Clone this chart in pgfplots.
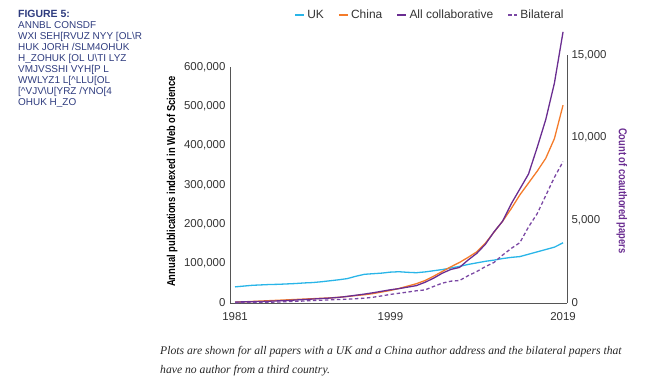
\documentclass[border=0pt]{standalone}
\usepackage{fontspec}
\setmainfont{Liberation Sans}
\newfontfamily\capfont{Liberation Serif}
\usepackage{pgfplots}
\usepackage{pgfplotstable}
\pgfplotsset{compat=1.18}
\definecolor{ukc}{HTML}{29B5E8}
\definecolor{cnc}{HTML}{F47B2A}
\definecolor{allc}{HTML}{6A2D91}
\definecolor{bic}{HTML}{7A47A3}
\definecolor{navy}{HTML}{2E3B7E}
\definecolor{axc}{HTML}{555555}
\definecolor{tkc}{HTML}{333333}

\pgfplotstableread{
year uk china
1981 41 2
1982 43 3
1983 45 4
1984 46 5
1985 47 6
1986 47.5 7
1987 48.5 8
1988 49.5 9
1989 51 10
1990 52 11
1991 54 12
1992 56.5 13
1993 59 14.5
1994 62 16.5
1995 68 19
1996 73 21
1997 74.5 24
1998 76 28
1999 78.5 32
2000 79.5 37
2001 78 43
2002 77 49
2003 79 57
2004 82 68
2005 85 80
2006 89 92
2007 93 103
2008 98 116
2009 102 130
2010 106 152
2011 109 180
2012 113 208
2013 116 240
2014 118 275
2015 124 305
2016 130 335
2017 136 368
2018 142 418
2019 153 503
}\pubtable

\pgfplotstableread{
year all bil
1981 60 20
1982 70 25
1983 80 30
1984 90 40
1985 110 50
1986 130 60
1987 150 80
1988 180 100
1989 210 120
1990 240 150
1991 270 170
1992 300 190
1993 340 210
1994 400 230
1995 470 260
1996 540 290
1997 620 350
1998 710 430
1999 800 520
2000 870 590
2001 960 660
2002 1050 740
2003 1250 790
2004 1500 1000
2005 1800 1200
2006 2030 1320
2007 2150 1360
2008 2600 1650
2009 3000 1900
2010 3550 2200
2011 4300 2450
2012 4950 2900
2013 6000 3300
2014 6900 3650
2015 7800 4600
2016 9400 5400
2017 11100 6500
2018 13300 7600
2019 16400 8550
}\coltable

\begin{document}
\begin{tikzpicture}[x=1bp,y=1bp]
\path[use as bounding box] (0,0) rectangle (654,390);

% left text block
\node[anchor=north west, align=left, inner sep=0pt, text=navy, font=\fontsize{10}{11}\selectfont] at (18,380) {%
{\bfseries\fontsize{10.5}{11}\selectfont FIGURE 5:}\\
ANNBL CONSDF\\
WXI SEH{[}RVUZ NYY {[}OL\textbackslash R\\
HUK JORH /SLM4OHUK\\
H\_ZOHUK {[}OL U\textbackslash TI LYZ\\
VMJVSSHI VYH{[}P L\\
WWLYZ1 L{[}\textasciicircum LLU{[}OL\\
{[}\textasciicircum VJV\textbackslash U{[}YRZ /YNO{[}4\\
OHUK H\_ZO};

% caption
\node[anchor=north west, align=left, inner sep=0pt, font=\capfont\itshape\fontsize{11.7}{19.5}\selectfont, text=black!85] at (160,44) {Plots are shown for all papers with a UK and a China author address and the bilateral papers that\\have no author from a third country.};

\begin{axis}[
  at={(230bp,87bp)}, anchor=south west,
  scale only axis, width=337bp, height=236bp,
  xmin=1980.42, xmax=2019.46, ymin=0, ymax=600000,
  axis x line*=bottom, axis y line*=left,
  axis line style={draw=axc, line width=0.8bp, -},
  major tick length=0pt,
  scaled y ticks=false, scaled x ticks=false,
  xtick={1981,1999,2019},
  xticklabels={1981,1999,2019},
  ytick={0,100000,200000,300000,400000,500000,600000},
  yticklabels={0,{100,000},{200,000},{300,000},{400,000},{500,000},{600,000}},
  tick label style={font=\fontsize{11.5}{12}\selectfont, text=tkc},
  xticklabel style={yshift=-6bp},
  yticklabel style={xshift=-1bp},
  ylabel={\scalebox{0.82}[1]{\bfseries\fontsize{11.5}{12}\selectfont Annual publications indexed in Web of Science}},
  ylabel style={at={(axis description cs:-0.172,0.515)}, anchor=center, text=black},
  clip=false,
]
\addplot[ukc, line width=1.3bp] table[x=year, y expr=\thisrow{uk}*1000] {\pubtable};
\addplot[cnc, line width=1.3bp] table[x=year, y expr=\thisrow{china}*1000] {\pubtable};
\end{axis}

\begin{axis}[
  at={(230bp,87bp)}, anchor=south west,
  scale only axis, width=337bp, height=248bp,
  xmin=1980.42, xmax=2019.46, ymin=0, ymax=15000,
  axis x line=none, axis y line*=right,
  axis line style={draw=axc, line width=0.8bp, -},
  major tick length=0pt,
  scaled y ticks=false, scaled x ticks=false,
  ytick={0,5000,10000,15000},
  yticklabels={0,{5,000},{10,000},{15,000}},
  tick label style={font=\fontsize{11.5}{12}\selectfont, text=tkc},
  yticklabel style={xshift=1bp},
  clip=false,
  legend columns=4,
  legend style={draw=none, fill=none, at={(rel axis cs:0.593,1.161)}, anchor=center,
    font=\fontsize{12}{12}\selectfont, text=tkc,
    /tikz/every even column/.append style={column sep=12bp}},
  legend cell align=left,
  legend image code/.code={\draw[#1, line width=2.2bp] (0,0) -- (9bp,0);},
]
\addlegendimage{ukc}
\addlegendentry{UK}
\addlegendimage{cnc}
\addlegendentry{China}
\addplot[allc, line width=1.3bp] table[x=year, y=all] {\coltable};
\addlegendentry{All collaborative}
\addplot[bic, line width=1.3bp, dash pattern=on 3.5bp off 2.5bp] table[x=year, y=bil] {\coltable};
\addlegendentry{Bilateral}
\node[rotate=-90, anchor=center, text=allc, font=\bfseries\fontsize{11.5}{12}\selectfont] at (rel axis cs:1.163,0.452) {\scalebox{0.82}[1]{Count of coauthored papers}};
\end{axis}
\end{tikzpicture}
\end{document}
